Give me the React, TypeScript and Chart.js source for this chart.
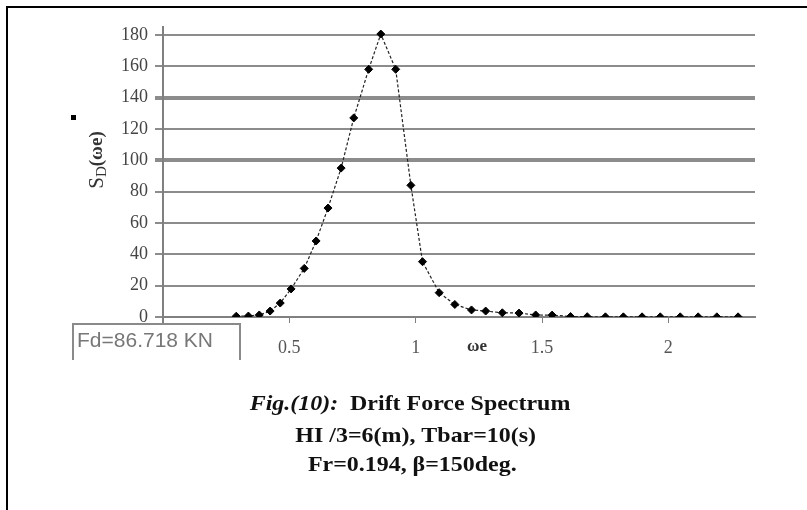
import React, { useEffect, useRef } from "react";
import { Chart, registerables } from "chart.js";

Chart.register(...registerables);

const omegaE = [0.290, 0.338, 0.381, 0.424, 0.464, 0.507, 0.559, 0.606, 0.653, 0.705, 0.755, 0.814, 0.862, 0.921, 0.981, 1.027, 1.093, 1.155, 1.221, 1.277, 1.343, 1.409, 1.475, 1.540, 1.613, 1.679, 1.751, 1.822, 1.896, 1.968, 2.047, 2.118, 2.192, 2.276];
const sdValues = [0.5, 0.6, 1.3, 3.8, 8.9, 17.9, 31, 48.5, 69.5, 95, 127, 158, 180.5, 158, 84, 35.3, 15.5, 8, 4.5, 3.8, 2.7, 2.5, 1.3, 1.2, 0.3, 0.2, 0.1, 0.1, 0.1, 0.1, 0.1, 0.1, 0.1, 0.1];
const yTicks = [0, 20, 40, 60, 80, 100, 120, 140, 160, 180];
const xTicks = [0.5, 1, 1.5, 2];
const thickLines = [100, 140];
const fdLabel = "Fd=86.718 KN";
const xTitle = "ωe";
const captionLines = ["HI /3=6(m), Tbar=10(s)", "Fr=0.194, β=150deg."];
const captionFig = "Fig.(10):";
const captionTitle = "  Drift Force Spectrum";

const SERIF = '"Times New Roman", "Liberation Serif", serif';
const SANS = '"Liberation Sans", Arial, sans-serif';

const decor = {
  id: "decor",
  afterDraw(chart: any) {
    const ctx = chart.ctx;
    const ca = chart.chartArea;
    ctx.save();
    ctx.strokeStyle = "#000";
    ctx.lineWidth = 2;
    ctx.beginPath();
    ctx.moveTo(7, 510);
    ctx.lineTo(7, 7);
    ctx.lineTo(807, 7);
    ctx.stroke();

    ctx.strokeStyle = "#808080";
    ctx.lineWidth = 2;
    ctx.beginPath();
    ctx.moveTo(ca.left, ca.top);
    ctx.lineTo(ca.left, ca.bottom + 7);
    ctx.stroke();

    ctx.strokeStyle = "#8a8a8a";
    ctx.lineWidth = 2;
    ctx.beginPath();
    ctx.moveTo(73, 360);
    ctx.lineTo(73, 324);
    ctx.lineTo(240, 324);
    ctx.lineTo(240, 360);
    ctx.stroke();
    ctx.fillStyle = "#777";
    ctx.font = `21px ${SANS}`;
    ctx.textBaseline = "middle";
    ctx.textAlign = "left";
    ctx.fillText(fdLabel, 77, 341);

    ctx.fillStyle = "#000";
    ctx.fillRect(71, 115, 5, 5);

    ctx.save();
    ctx.translate(97, 160);
    ctx.rotate(-Math.PI / 2);
    ctx.fillStyle = "#333";
    ctx.textBaseline = "middle";
    ctx.textAlign = "left";
    ctx.font = `21px ${SERIF}`;
    const sW = ctx.measureText("S").width;
    ctx.font = `15px ${SERIF}`;
    const dW = ctx.measureText("D").width;
    ctx.font = `bold 19px ${SERIF}`;
    const rW = ctx.measureText("(ωe)").width;
    const x0 = -(sW + dW + rW) / 2;
    ctx.font = `21px ${SERIF}`;
    ctx.fillText("S", x0, 0);
    ctx.font = `15px ${SERIF}`;
    ctx.fillText("D", x0 + sW, 5);
    ctx.font = `bold 19px ${SERIF}`;
    ctx.fillText("(ωe)", x0 + sW + dW, 0);
    ctx.restore();

    ctx.fillStyle = "#333";
    ctx.font = `bold 17px ${SERIF}`;
    ctx.textAlign = "center";
    ctx.textBaseline = "middle";
    ctx.fillText(xTitle, 477, 347);

    const cx = 410;
    const sxScale = 1.14;
    ctx.save();
    ctx.translate(cx, 0);
    ctx.scale(sxScale, 1);
    ctx.fillStyle = "#111";
    ctx.textBaseline = "middle";
    ctx.textAlign = "left";
    ctx.font = `italic bold 21px ${SERIF}`;
    const fW = ctx.measureText(captionFig).width;
    ctx.font = `bold 21px ${SERIF}`;
    const tW = ctx.measureText(captionTitle).width;
    const sx = -(fW + tW) / 2;
    ctx.font = `italic bold 21px ${SERIF}`;
    ctx.fillText(captionFig, sx, 405);
    ctx.font = `bold 21px ${SERIF}`;
    ctx.fillText(captionTitle, sx + fW, 405);
    ctx.textAlign = "center";
    ctx.fillText(captionLines[0], 5, 437);
    ctx.fillText(captionLines[1], 2, 466);
    ctx.restore();
    ctx.restore();
  },
};

export default function App() {
  const ref = useRef<HTMLCanvasElement | null>(null);
  useEffect(() => {
    if (!ref.current) return;
    const chart = new Chart(ref.current, {
      type: "line",
      data: {
        datasets: [
          {
            data: omegaE.map((x, i) => ({ x, y: sdValues[i] })),
            borderColor: "#222",
            borderWidth: 1.2,
            borderDash: [3, 2],
            pointStyle: "rectRot",
            pointRadius: 4,
            pointBackgroundColor: "#000",
            pointBorderColor: "#000",
            pointBorderWidth: 1,
            tension: 0,
            fill: false,
          },
        ],
      },
      options: {
        responsive: false,
        animation: false,
        events: [],
        layout: { padding: { top: 27, right: 52, left: 0, bottom: 0 } },
        plugins: { legend: { display: false }, tooltip: { enabled: false } },
        scales: {
          x: {
            type: "linear",
            min: 0,
            max: 2.343,
            afterBuildTicks: (s: any) => {
              s.ticks = xTicks.map((v) => ({ value: v }));
            },
            afterFit: (s: any) => {
              s.height = 193;
            },
            grid: {
              drawOnChartArea: false,
              drawTicks: true,
              tickLength: 6,
              color: "#808080",
              lineWidth: 1,
            },
            border: { display: true, color: "#808080", width: 2 },
            ticks: {
              padding: 14,
              color: "#555",
              font: { family: SERIF, size: 18 },
              maxRotation: 0,
              callback: (v: any) => String(v),
            },
          },
          y: {
            type: "linear",
            min: 0,
            max: 185,
            afterBuildTicks: (s: any) => {
              s.ticks = yTicks.map((v) => ({ value: v }));
            },
            afterFit: (s: any) => {
              s.width = 163;
            },
            grid: {
              drawTicks: true,
              tickLength: 8,
              color: "#8c8c8c",
              lineWidth: (c: any) => (c.tick && thickLines.includes(c.tick.value) ? 4 : 2),
            },
            border: { display: true, color: "#808080", width: 2 },
            ticks: {
              padding: 7,
              color: "#444",
              font: { family: SERIF, size: 18 },
            },
          },
        },
      },
      plugins: [decor],
    });
    return () => chart.destroy();
  }, []);
  return (
    <div style={{ position: "fixed", left: 0, top: 0, width: 807, height: 510, background: "#fff" }}>
      <canvas ref={ref} width={807} height={510} style={{ display: "block" }} />
    </div>
  );
}
